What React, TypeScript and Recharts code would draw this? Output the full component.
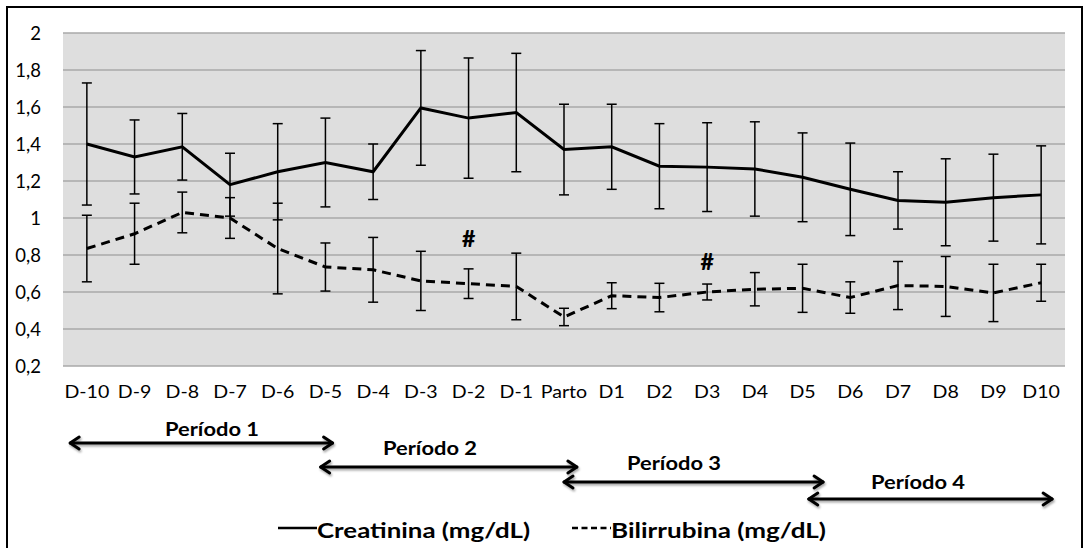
import React from "react";
import {
  ComposedChart,
  Line,
  XAxis,
  YAxis,
  CartesianGrid,
  ErrorBar,
  ReferenceDot,
} from "recharts";

// categories and values
const days = [
  "D-10", "D-9", "D-8", "D-7", "D-6", "D-5", "D-4", "D-3", "D-2", "D-1",
  "Parto", "D1", "D2", "D3", "D4", "D5", "D6", "D7", "D8", "D9", "D10",
];
const creatinina = [
  1.4, 1.33, 1.385, 1.18, 1.25, 1.3, 1.25, 1.595, 1.54, 1.57,
  1.37, 1.385, 1.28, 1.275, 1.265, 1.22, 1.155, 1.095, 1.085, 1.11, 1.125,
];
const creatininaSd = [
  0.33, 0.2, 0.18, 0.17, 0.26, 0.24, 0.15, 0.31, 0.325, 0.32,
  0.245, 0.23, 0.23, 0.24, 0.255, 0.24, 0.25, 0.155, 0.235, 0.235, 0.265,
];
const bilirrubina = [
  0.835, 0.915, 1.03, 1.0, 0.835, 0.735, 0.72, 0.66, 0.645, 0.63,
  0.465, 0.58, 0.57, 0.6, 0.615, 0.62, 0.57, 0.635, 0.63, 0.595, 0.65,
];
const bilirrubinaSd = [
  0.18, 0.165, 0.11, 0.11, 0.245, 0.13, 0.175, 0.16, 0.08, 0.18,
  0.047, 0.07, 0.077, 0.043, 0.09, 0.13, 0.085, 0.13, 0.162, 0.155, 0.1,
];
const yTicks = [0.2, 0.4, 0.6, 0.8, 1, 1.2, 1.4, 1.6, 1.8, 2];

// "#" marks (category, value where the sign sits)
const hashDays = ["D-2", "D3"];
const hashValues = [0.89, 0.77];

// periods: label and span in category units
const periodLabels = ["Período 1", "Período 2", "Período 3", "Período 4"];
const periodFrom = [-0.35, 4.9, 10.0, 15.13];
const periodTo = [5.15, 10.27, 15.43, 20.23];

const seriesNames = ["Creatinina (mg/dL)", "Bilirrubina (mg/dL)"];

// layout
const W = 1083;
const H = 548;
const PLOT_L = 63;
const PLOT_R = 1065;
const PLOT_T = 33;
const PLOT_B = 366;
const band = (PLOT_R - PLOT_L) / days.length;
const periodArrowY = [443, 467, 482, 499];
const periodTextX = [212, 430, 674, 918];
const periodTextY = [429, 448, 463, 482];
const periodTextW = 94;
const legendX = [278, 572];
const legendTextW = [213, 215];
const legendY = 529;
const FONT = "Lato, 'Open Sans', sans-serif";

const data = days.map((d, i) => ({
  day: d,
  creat: creatinina[i],
  creatErr: creatininaSd[i],
  bili: bilirrubina[i],
  biliErr: bilirrubinaSd[i],
}));

const fmt = (v: number) => (Number.isInteger(v) ? String(v) : v.toFixed(1).replace(".", ","));
const catX = (u: number) => PLOT_L + band * (u + 0.5);

// the source font is a little wider than Lato, so stretch the day labels
function DayTick({ x, y, payload }: any) {
  return (
    <text
      transform={`translate(${x},${y}) scale(1.12,1)`}
      textAnchor="middle"
      dy="0.71em"
      fontFamily={FONT}
      fontSize={17.5}
      fill="#000"
    >
      {payload.value}
    </text>
  );
}

function Arrow({ x1, x2, y }: { x1: number; x2: number; y: number }) {
  const h = 9;
  const s = 6;
  return (
    <g stroke="#000" strokeWidth={3} fill="none" strokeLinecap="round" strokeLinejoin="round" filter="url(#shadow)">
      <line x1={x1} y1={y} x2={x2} y2={y} />
      <polyline points={`${x1 + h},${y - s} ${x1},${y} ${x1 + h},${y + s}`} />
      <polyline points={`${x2 - h},${y - s} ${x2},${y} ${x2 - h},${y + s}`} />
    </g>
  );
}

export default function App() {
  return (
    <div style={{ position: "relative", width: W, height: H, overflow: "hidden", background: "#fff" }}>
      <style>{`body{margin:0}`}</style>
      <ComposedChart
        width={W}
        height={H}
        data={data}
        margin={{ top: PLOT_T, right: W - PLOT_R, left: 0, bottom: H - PLOT_B - 30 }}
      >
        <CartesianGrid vertical={false} fill="#dedede" stroke="#a8a8a8" strokeWidth={1.5} />
        <XAxis
          dataKey="day"
          scale="band"
          interval={0}
          height={30}
          axisLine={false}
          tickLine={false}
          tickSize={0}
          tickMargin={20}
          tick={<DayTick />}
        />
        <YAxis
          domain={[0.2, 2]}
          ticks={yTicks}
          width={PLOT_L}
          axisLine={false}
          tickLine={false}
          tickSize={0}
          tickMargin={22}
          tickFormatter={fmt}
          tick={{ fontSize: 18.5, fill: "#000", fontFamily: FONT }}
        />
        <Line
          dataKey="creat"
          name={seriesNames[0]}
          stroke="#000"
          strokeWidth={3}
          dot={false}
          activeDot={false}
          isAnimationActive={false}
        >
          <ErrorBar dataKey="creatErr" width={5} stroke="#000" strokeWidth={1.5} />
        </Line>
        <Line
          dataKey="bili"
          name={seriesNames[1]}
          stroke="#000"
          strokeWidth={3}
          strokeDasharray="9 6"
          dot={false}
          activeDot={false}
          isAnimationActive={false}
        >
          <ErrorBar dataKey="biliErr" width={5} stroke="#000" strokeWidth={1.5} />
        </Line>
        {hashDays.map((d, i) => (
          <ReferenceDot
            key={d}
            x={d}
            y={hashValues[i]}
            r={0}
            ifOverflow="visible"
            shape={(p: any) => (
              <text
                x={p.cx}
                y={p.cy}
                textAnchor="middle"
                dominantBaseline="central"
                fontFamily={FONT}
                fontWeight={900}
                fontSize={23}
                fill="#000"
              >
                #
              </text>
            )}
          />
        ))}
      </ComposedChart>

      <svg width={W} height={H} style={{ position: "absolute", left: 0, top: 0, pointerEvents: "none" }}>
        <defs>
          <filter id="shadow" x="-5%" y="-100%" width="110%" height="300%">
            <feDropShadow dx={1} dy={2} stdDeviation={1.2} floodColor="#000" floodOpacity={0.35} />
          </filter>
        </defs>
        {periodLabels.map((p, i) => (
          <g key={p}>
            <Arrow x1={catX(periodFrom[i])} x2={catX(periodTo[i])} y={periodArrowY[i]} />
            <text
              x={periodTextX[i] - periodTextW / 2}
              y={periodTextY[i]}
              dominantBaseline="central"
              textLength={periodTextW}
              lengthAdjust="spacingAndGlyphs"
              fontFamily={FONT}
              fontWeight={700}
              fontSize={18.5}
              fill="#000"
            >
              {p}
            </text>
          </g>
        ))}
        {seriesNames.map((n, i) => (
          <g key={n}>
            <line
              x1={legendX[i]}
              x2={legendX[i] + 39}
              y1={legendY - 1}
              y2={legendY - 1}
              stroke="#000"
              strokeWidth={2.5}
              strokeDasharray={i === 1 ? "6 3.5" : undefined}
            />
            <text
              x={legendX[i] + 39}
              y={legendY}
              dominantBaseline="central"
              textLength={legendTextW[i]}
              lengthAdjust="spacingAndGlyphs"
              fontFamily={FONT}
              fontWeight={700}
              fontSize={21}
              fill="#000"
            >
              {n}
            </text>
          </g>
        ))}
      </svg>

      <div
        style={{
          position: "absolute",
          left: 6,
          top: 6,
          width: W - 6,
          height: H + 10,
          borderLeft: "2px solid #000",
          borderTop: "2px solid #000",
          borderRight: "2px solid #000",
          boxSizing: "border-box",
          pointerEvents: "none",
        }}
      />
    </div>
  );
}
